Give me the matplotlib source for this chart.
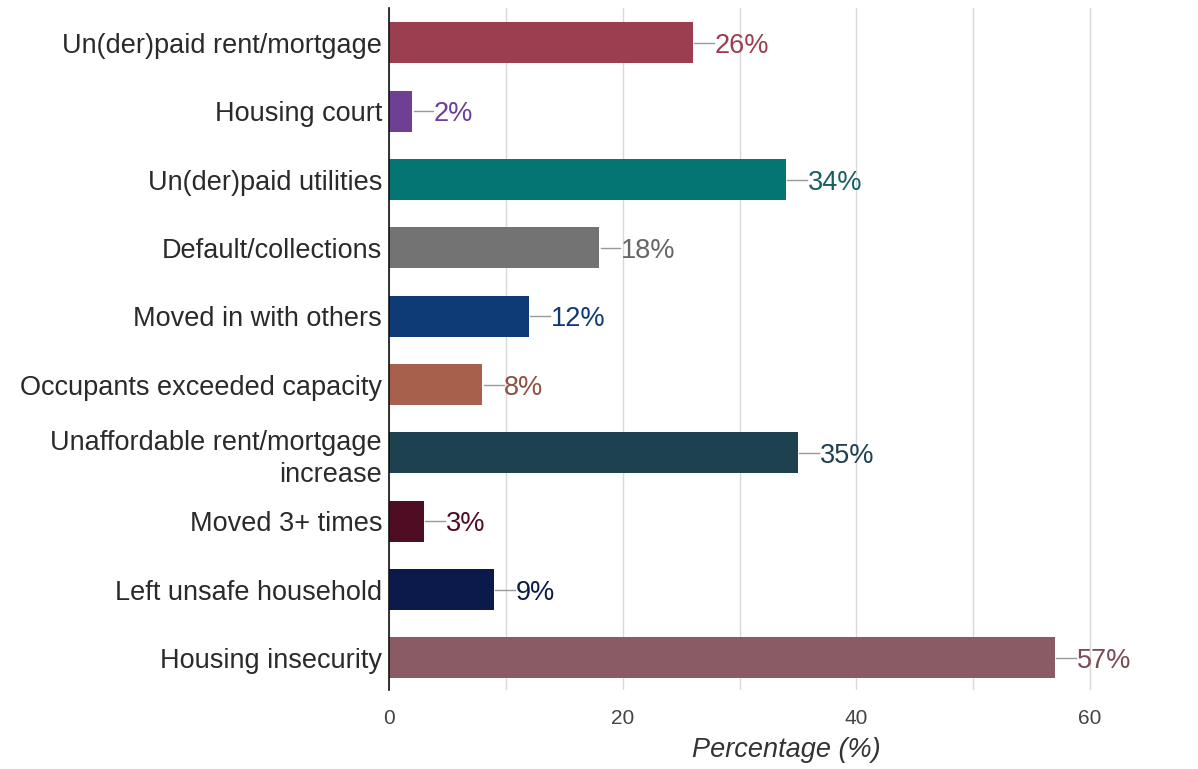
import matplotlib.pyplot as plt
from matplotlib.ticker import MultipleLocator

plt.rcParams['font.family'] = ['Liberation Sans', 'DejaVu Sans']

# Data
categories = [
    "Un(der)paid rent/mortgage",
    "Housing court",
    "Un(der)paid utilities",
    "Default/collections",
    "Moved in with others",
    "Occupants exceeded capacity",
    "Unaffordable rent/mortgage\nincrease",
    "Moved 3+ times",
    "Left unsafe household",
    "Housing insecurity",
]
values = [26, 2, 34, 18, 12, 8, 35, 3, 9, 57]
bar_colors = ["#9B3F50", "#6F3F93", "#047573", "#737373", "#0E3A75",
              "#A6604B", "#1E4150", "#4E0D22", "#0B1A4A", "#8A5B64"]
text_colors = ["#9B3F50", "#6F3F93", "#17605E", "#666666", "#0E3A75",
               "#8E5240", "#1E4150", "#4E0D22", "#0B1A4A", "#7A4B55"]

fig = plt.figure(figsize=(11.98, 7.69), dpi=100)
ax = fig.add_axes([0.3247, 0.1027, 0.6633, 0.8869])

ypos = list(range(len(categories)))
ax.barh(ypos, values, height=0.6, color=bar_colors, zorder=3)

# value labels with leader lines
for y, v, c in zip(ypos, values, text_colors):
    ax.plot([v + 0.1, v + 1.8], [y, y], color="#999999", lw=1, zorder=3)
    ax.text(v + 1.85, y, f"{v}%", va="center_baseline", ha="left", fontsize=19.5, color=c)

ax.set_xlim(0, 68)
ax.set_ylim(9.47, -0.51)
ax.set_yticks(ypos)
ax.set_yticklabels(categories, fontsize=19.5, color="#2a2a2a", linespacing=1.3)
ax.xaxis.set_major_locator(MultipleLocator(20))
ax.xaxis.set_minor_locator(MultipleLocator(10))
ax.tick_params(axis="y", length=0, pad=5)
ax.tick_params(axis="x", which="both", length=0, labelsize=15, labelcolor="#444444", pad=14)
ax.grid(axis="x", which="both", color="#D9D9D9", lw=1, zorder=0)

for s in ["top", "right", "bottom"]:
    ax.spines[s].set_visible(False)
ax.spines["left"].set_color("#111111")
ax.spines["left"].set_linewidth(1.2)
ax.spines["left"].set_zorder(4)

ax.set_xlabel("Percentage (%)", fontsize=19.5, style="italic", color="#333333", labelpad=6)

plt.savefig("out.png", dpi=100)
